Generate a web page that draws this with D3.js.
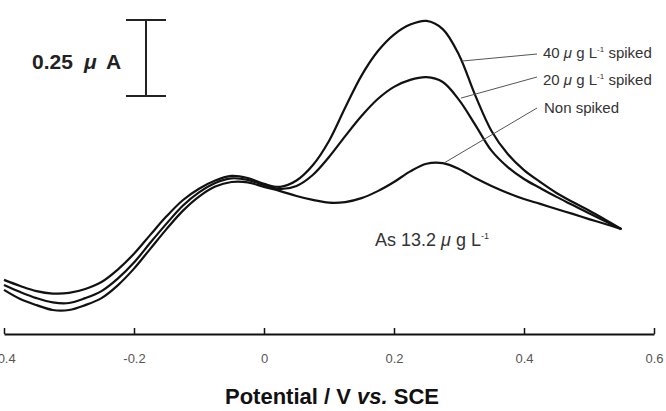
<!DOCTYPE html>
<html>
<head>
<meta charset="utf-8">
<script src="https://cdn.jsdelivr.net/npm/d3@7/dist/d3.min.js"></script>
<style>
  html, body { margin: 0; padding: 0; background: #fff; }
  svg { display: block; }
  text { font-family: "Liberation Sans", Arial, sans-serif; }
</style>
</head>
<body>
<svg id="chart" width="666" height="411"></svg>
<script>
// Potential (V vs. SCE)
const potential = [-0.4, -0.375, -0.35, -0.325, -0.3, -0.275, -0.25, -0.225, -0.2, -0.175,
  -0.15, -0.125, -0.1, -0.075, -0.05, -0.025, 0, 0.025, 0.05, 0.075,
  0.1, 0.125, 0.15, 0.175, 0.2, 0.225, 0.25, 0.275, 0.3, 0.325,
  0.35, 0.375, 0.4, 0.425, 0.45, 0.475, 0.5, 0.525, 0.55];

// Current (µA, arbitrary baseline)
const spiked40 = [0.178, 0.158, 0.141, 0.133, 0.135, 0.148, 0.171, 0.212, 0.264, 0.326,
  0.387, 0.440, 0.478, 0.505, 0.520, 0.513, 0.494, 0.484, 0.505, 0.555,
  0.635, 0.745, 0.850, 0.930, 0.985, 1.018, 1.030, 1.003, 0.918, 0.785,
  0.668, 0.592, 0.539, 0.500, 0.464, 0.434, 0.406, 0.376, 0.345];

const spiked20 = [0.161, 0.138, 0.118, 0.104, 0.102, 0.118, 0.141, 0.182, 0.235, 0.300,
  0.363, 0.422, 0.466, 0.497, 0.512, 0.507, 0.490, 0.477, 0.487, 0.523,
  0.582, 0.651, 0.717, 0.773, 0.813, 0.836, 0.845, 0.829, 0.770, 0.688,
  0.603, 0.549, 0.510, 0.480, 0.451, 0.424, 0.397, 0.371, 0.345];

const nonSpiked = [0.145, 0.115, 0.095, 0.079, 0.079, 0.095, 0.118, 0.160, 0.215, 0.280,
  0.345, 0.405, 0.452, 0.485, 0.500, 0.499, 0.484, 0.470, 0.454, 0.441,
  0.432, 0.434, 0.447, 0.470, 0.500, 0.535, 0.560, 0.562, 0.543, 0.513,
  0.487, 0.464, 0.444, 0.428, 0.411, 0.395, 0.378, 0.362, 0.345];

const xTicks = [-0.4, -0.2, 0, 0.2, 0.4, 0.6];
const xTickLabels = ["-0.4", "-0.2", "0", "0.2", "0.4", "0.6"];

const scaleBarValue = 0.25;   // µA
const scaleBarTop = 1.033;    // µA
const seriesLabels = ["40", "20", "Non spiked"];
const annotAnchors = [[0.305, 0.898], [0.303, 0.776], [0.277, 0.5625]];

const svg = d3.select("#chart");
const x = d3.scaleLinear().domain([-0.4, 0.6]).range([4, 654]);
const y = d3.scaleLinear().domain([0, 1]).range([334, 30]);

// axis
const axis = d3.axisBottom(x)
  .tickValues(xTicks)
  .tickFormat((d, i) => xTickLabels[i])
  .tickSize(-6)
  .tickPadding(20)
  .tickSizeOuter(0);
const gA = svg.append("g").attr("transform", "translate(0,334)").call(axis);
gA.select(".domain").attr("stroke", "#111").attr("stroke-width", 2);
gA.selectAll(".tick line").attr("stroke", "#111").attr("stroke-width", 1.5);
gA.selectAll(".tick text").attr("fill", "#555").style("font-size", "13px")
  .style("font-family", "'Liberation Sans', Arial, sans-serif");

// axis title
const title = svg.append("text").attr("x", 332).attr("y", 404).attr("text-anchor", "middle")
  .style("font-size", "22px").style("font-weight", "bold").attr("fill", "#111");
title.append("tspan").text("Potential / V ");
title.append("tspan").style("font-style", "italic").text("vs.");
title.append("tspan").text(" SCE");

// curves
const line = d3.line().x((d, i) => x(potential[i])).y(d => y(d)).curve(d3.curveCatmullRom.alpha(0.5));
[spiked40, spiked20, nonSpiked].forEach(s => {
  svg.append("path").datum(s).attr("d", line).attr("fill", "none")
    .attr("stroke", "#111").attr("stroke-width", 2.2);
});

// scale bar
const sbX = 146;
const y1 = y(scaleBarTop), y2 = y(scaleBarTop - scaleBarValue);
svg.append("line").attr("x1", sbX).attr("x2", sbX).attr("y1", y1).attr("y2", y2).attr("stroke", "#222").attr("stroke-width", 2);
[y1, y2].forEach(yy => svg.append("line").attr("x1", sbX - 20).attr("x2", sbX + 20).attr("y1", yy).attr("y2", yy).attr("stroke", "#222").attr("stroke-width", 2));
const sbt = svg.append("text").attr("y", 69).style("font-size", "21px").style("font-weight", "bold").attr("fill", "#222");
sbt.append("tspan").attr("x", 32).text(scaleBarValue);
sbt.append("tspan").attr("x", 84).style("font-style", "italic").text("μ");
sbt.append("tspan").attr("x", 106).text("A");

// annotations
const labelPos = [[537, 54, 543, 58], [537, 77, 543, 85], [537, 108, 544, 113]];
annotAnchors.forEach((a, i) => {
  svg.append("line").attr("x1", x(a[0])).attr("y1", y(a[1]))
    .attr("x2", labelPos[i][0]).attr("y2", labelPos[i][1])
    .attr("stroke", "#555").attr("stroke-width", 1);
  const t = svg.append("text").attr("x", labelPos[i][2]).attr("y", labelPos[i][3])
    .style("font-size", "15px").attr("fill", "#333");
  if (i < 2) {
    t.append("tspan").text(seriesLabels[i] + "  ");
    t.append("tspan").style("font-style", "italic").text("μ");
    t.append("tspan").text(" g L");
    t.append("tspan").attr("dy", -6).style("font-size", "8px").text("-1");
    t.append("tspan").attr("dy", 6).text(" spiked");
  } else {
    t.text(seriesLabels[i]);
  }
});

// concentration label
const as = svg.append("text").attr("x", 375).attr("y", 246).style("font-size", "18px").attr("fill", "#333");
as.append("tspan").text("As 13.2  ");
as.append("tspan").style("font-style", "italic").text("μ");
as.append("tspan").text(" g L");
as.append("tspan").attr("dy", -7).style("font-size", "9px").text("-1");
</script>
</body>
</html>
